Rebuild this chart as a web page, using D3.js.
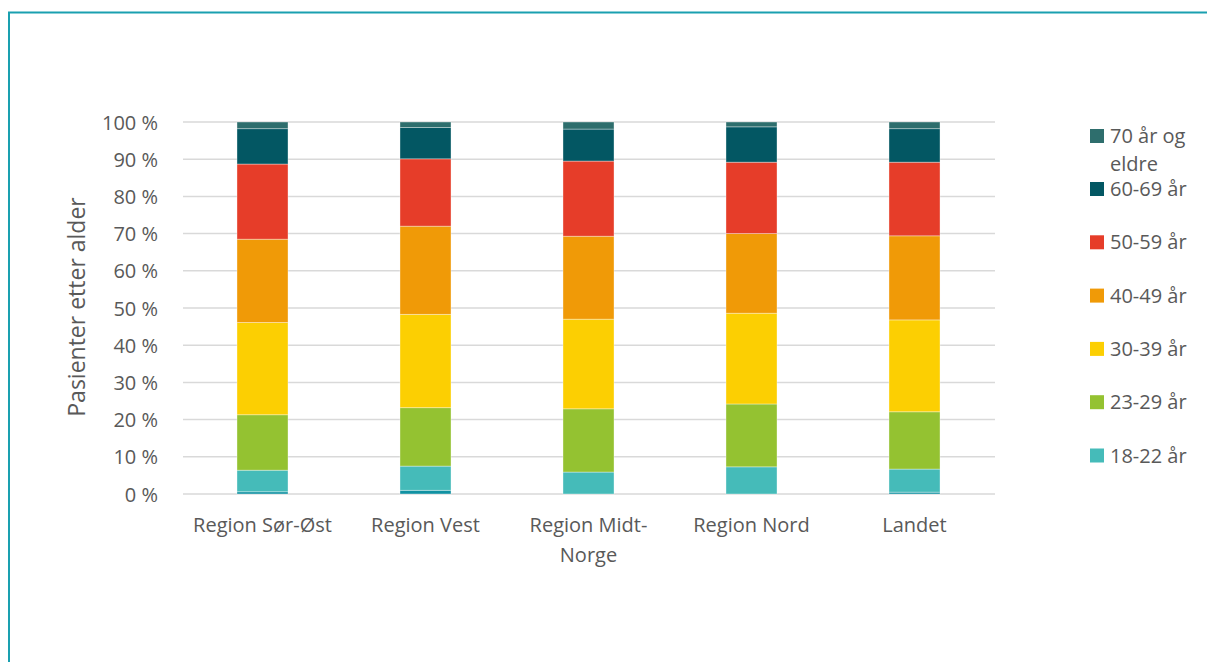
<!DOCTYPE html>
<html lang="no">
<head>
<meta charset="utf-8">
<script src="https://cdn.jsdelivr.net/npm/d3@7"></script>
<style>
  html, body { margin: 0; padding: 0; background: #fff; }
  svg { display: block; }
  text { font-family: "Open Sans", Lato, sans-serif; fill: #595959; }
</style>
</head>
<body>
<svg id="chart" width="1207" height="662"></svg>
<script>
// Regions on the x axis
const regions = ["Region Sør-Øst", "Region Vest", "Region Midt-Norge", "Region Nord", "Landet"];
// Wrapped x-axis labels
const regionLines = [["Region Sør-Øst"], ["Region Vest"], ["Region Midt-", "Norge"], ["Region Nord"], ["Landet"]];

// Age groups, bottom to top
const ageGroups = ["Under 18 år", "18-22 år", "23-29 år", "30-39 år", "40-49 år", "50-59 år", "60-69 år", "70 år og eldre"];
const ageColors = ["#1191a2", "#45bbb9", "#94c231", "#fccf02", "#f09a07", "#e63d29", "#035763", "#2e6e6d"];

// Share of patients (%) per age group, one array per age group, in region order
const under18  = [0.6, 1.0, 0.0, 0.0, 0.5];
const age18_22 = [5.8, 6.5, 5.9, 7.3, 6.2];
const age23_29 = [14.9, 15.7, 17.0, 16.9, 15.4];
const age30_39 = [24.8, 25.1, 24.1, 24.4, 24.7];
const age40_49 = [22.4, 23.7, 22.3, 21.4, 22.6];
const age50_59 = [20.2, 18.1, 20.2, 19.2, 19.8];
const age60_69 = [9.5, 8.4, 8.6, 9.5, 9.0];
const age70plus = [1.8, 1.5, 1.9, 1.3, 1.8];

// Legend entries, top to bottom (label lines, colour index)
const legendItems = [
  { lines: ["70 år og", "eldre"], idx: 7 },
  { lines: ["60-69 år"], idx: 6 },
  { lines: ["50-59 år"], idx: 5 },
  { lines: ["40-49 år"], idx: 4 },
  { lines: ["30-39 år"], idx: 3 },
  { lines: ["23-29 år"], idx: 2 },
  { lines: ["18-22 år"], idx: 1 }
];

const yTicks = [0, 10, 20, 30, 40, 50, 60, 70, 80, 90, 100];

const seriesValues = [under18, age18_22, age23_29, age30_39, age40_49, age50_59, age60_69, age70plus];
const table = regions.map((r, i) => {
  const row = { region: r };
  ageGroups.forEach((g, k) => { row[g] = seriesValues[k][i]; });
  return row;
});
// Normalise each region to 100 %
table.forEach(row => {
  const sum = d3.sum(ageGroups, g => row[g]);
  ageGroups.forEach(g => { row[g] = row[g] / sum * 100; });
});

const svg = d3.select("#chart");

// Outer frame
svg.append("path")
  .attr("d", "M9,670 L9,12.5 L1215,12.5")
  .attr("fill", "none")
  .attr("stroke", "#1aa0b0")
  .attr("stroke-width", 2);

const margin = { left: 181, right: 211, top: 122, bottom: 168 };
const W = 1207, H = 662;
const fontSize = 20;

const x = d3.scaleBand()
  .domain(regions)
  .range([margin.left, W - margin.right])
  .paddingInner(0.687)
  .paddingOuter(0.3435);

const y = d3.scaleLinear()
  .domain([0, 100])
  .range([H - margin.bottom, margin.top]);

// Gridlines
svg.append("g")
  .selectAll("line")
  .data(yTicks)
  .join("line")
  .attr("x1", margin.left + 2)
  .attr("x2", W - margin.right - 1)
  .attr("y1", d => y(d))
  .attr("y2", d => y(d))
  .attr("stroke", "#d9d9d9")
  .attr("stroke-width", 1.5);

// Y axis tick labels
const yAxis = d3.axisLeft(y)
  .tickValues(yTicks)
  .tickFormat(d => d + " %")
  .tickSize(0)
  .tickPadding(0);
const yg = svg.append("g")
  .attr("transform", `translate(${158},0)`)
  .call(yAxis);
yg.select(".domain").remove();
yg.selectAll("text")
  .attr("font-size", fontSize)
  .attr("fill", "#595959")
  .attr("dy", "0.35em")
  .style("font-family", "'Open Sans', Lato, sans-serif");

// Stacked bars
const stack = d3.stack().keys(ageGroups);
const layers = stack(table);

svg.append("g")
  .selectAll("g")
  .data(layers)
  .join("g")
  .attr("fill", (d, i) => ageColors[i])
  .selectAll("rect")
  .data(d => d)
  .join("rect")
  .attr("x", d => x(d.data.region))
  .attr("width", x.bandwidth())
  .attr("y", d => y(d[1]))
  .attr("height", d => Math.max(0, y(d[0]) - y(d[1])))
  .attr("stroke", "rgba(255,255,255,0.45)")
  .attr("stroke-width", 0.8);

// X axis labels
const xl = svg.append("g");
regions.forEach((r, i) => {
  const t = xl.append("text")
    .attr("text-anchor", "middle")
    .attr("font-size", fontSize)
    .attr("x", x(r) + x.bandwidth() / 2)
    .attr("y", 532);
  regionLines[i].forEach((ln, j) => {
    t.append("tspan")
      .attr("x", x(r) + x.bandwidth() / 2)
      .attr("dy", j === 0 ? 0 : 30)
      .text(ln);
  });
});

// Y axis title
svg.append("text")
  .attr("transform", `translate(85,${307}) rotate(-90)`)
  .attr("text-anchor", "middle")
  .attr("font-size", 23)
  .text("Pasienter etter alder");

// Legend
const lg = svg.append("g");
const legendY0 = 129;
const legendStep = 53.3;
legendItems.forEach((item, i) => {
  const top = i === 0 ? legendY0 : 182 + (i - 1) * legendStep;
  lg.append("rect")
    .attr("x", 1090)
    .attr("y", top)
    .attr("width", 14)
    .attr("height", 14)
    .attr("fill", ageColors[item.idx]);
  const t = lg.append("text")
    .attr("x", 1110)
    .attr("y", top + 14)
    .attr("font-size", fontSize);
  item.lines.forEach((ln, j) => {
    t.append("tspan")
      .attr("x", 1110)
      .attr("dy", j === 0 ? 0 : 28)
      .text(ln);
  });
});
</script>
</body>
</html>
